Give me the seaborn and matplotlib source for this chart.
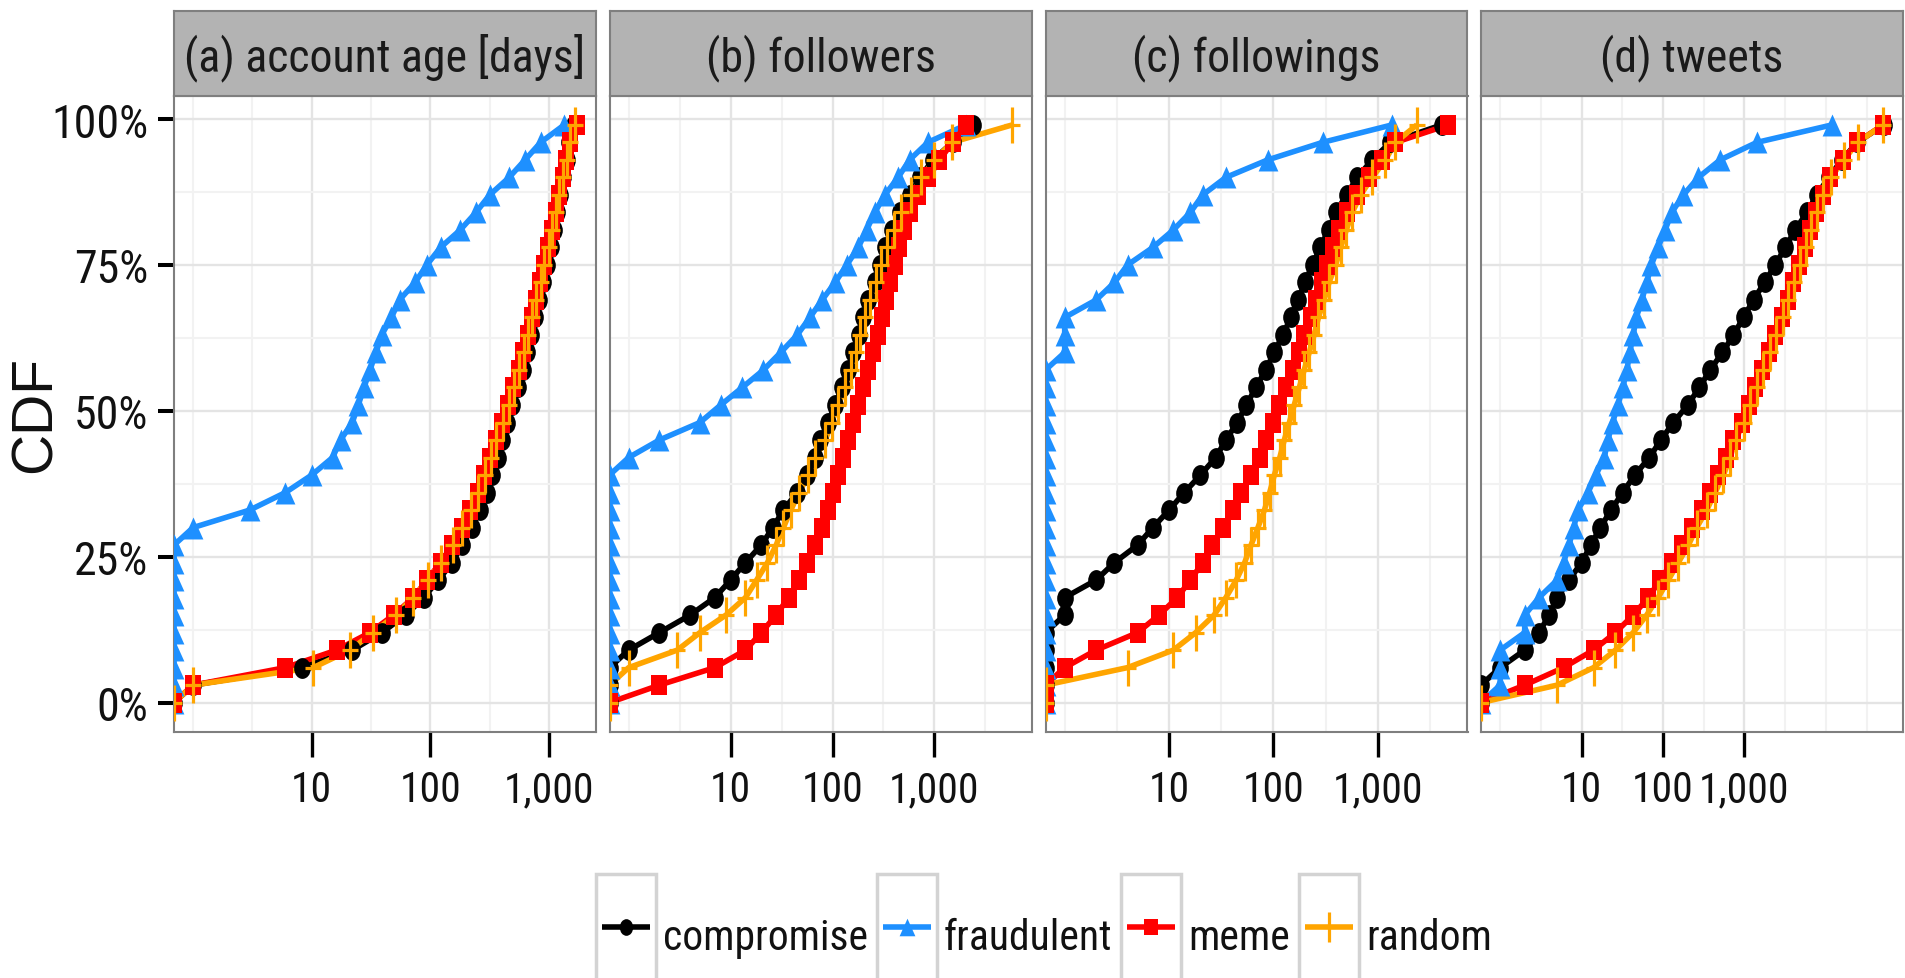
import numpy as np
import pandas as pd
import matplotlib
matplotlib.use("Agg")
import matplotlib.pyplot as plt
from matplotlib import font_manager as fm
from matplotlib.path import Path
from matplotlib.patches import Rectangle
from matplotlib.ticker import FixedLocator, FuncFormatter, NullFormatter
import seaborn as sns

# ---------------------------------------------------------------- data
CDF_LEVELS = [0.00, 0.03, 0.06, 0.09, 0.12, 0.15, 0.18, 0.21, 0.24, 0.27,
              0.30, 0.33, 0.36, 0.39, 0.42, 0.45, 0.48, 0.51, 0.54, 0.57,
              0.60, 0.63, 0.66, 0.69, 0.72, 0.75, 0.78, 0.81, 0.84, 0.87,
              0.90, 0.93, 0.96, 0.99]

GROUPS = ["compromise", "fraudulent", "meme", "random"]
GROUP_COLORS = ["#000000", "#1E90FF", "#FF0000", "#FFA500"]
PANEL_TITLES = ["(a) account age [days]", "(b) followers",
                "(c) followings", "(d) tweets"]
X_TICKS = [10, 100, 1000]
Y_TICKS = [0.0, 0.25, 0.50, 0.75, 1.0]
Y_TICK_LABELS = ["0%", "25%", "50%", "75%", "100%"]

# quantile values (one per CDF level)
AGE_COMPROMISE = [0, 1, 8.2, 22, 39, 62, 88, 117, 153, 186, 225, 262, 298, 334,
                  370, 405, 447, 493, 548, 605, 653, 706, 762, 822, 887, 957,
                  1033, 1096, 1175, 1250, 1327, 1413, 1489, 1633]
AGE_FRAUDULENT = [0, 0, 0, 0, 0, 0, 0, 0, 0, 0, 1, 3, 6, 10, 15, 17.5, 22,
                  24.7, 27.6, 31, 34.8, 38.9, 47, 55, 74.5, 93.5, 122, 179,
                  243, 317, 463, 630, 853, 1349]
AGE_MEME = [0, 1, 6, 16.2, 31, 49, 72, 93.5, 122, 153, 186, 216, 252, 282, 317,
            355, 405, 453, 500, 557, 611, 664, 721, 778, 841, 908, 993, 1064,
            1140, 1222, 1309, 1400, 1500, 1722]
AGE_RANDOM = [0, 1, 10.3, 21, 33, 51, 72, 95, 124, 155, 186, 219, 254, 288, 324,
              359, 407, 457, 507, 562, 617, 670, 728, 785, 851, 916, 1000,
              1072, 1148, 1230, 1318, 1413, 1514, 1660]

FOLLOWERS_COMPROMISE = [0, 0, 0, 1, 2, 4, 7, 10, 14, 20, 26, 33, 45, 56, 67,
                        76, 90, 106, 123, 143, 160, 182, 200, 224, 260, 291,
                        326, 386, 456, 570, 724, 964, 1510, 2366]
FOLLOWERS_FRAUDULENT = [0, 0, 0, 0, 0, 0, 0, 0, 0, 0, 0, 0, 0, 0, 1, 2, 5, 8,
                        13, 21, 31, 45, 60, 79, 106, 138, 179, 216, 260, 326,
                        440, 570, 861, 2037]
FOLLOWERS_MEME = [0, 2, 7, 14, 20, 28, 37, 47, 56, 68, 79, 91, 102, 114, 128,
                  143, 160, 179, 200, 224, 251, 281, 309, 338, 370, 407, 449,
                  499, 570, 689, 861, 1119, 1510, 2037]
FOLLOWERS_RANDOM = [0, 0, 1, 3, 5, 9, 14, 18, 23, 28, 33, 39, 47, 58, 68, 85,
                    98, 114, 133, 151, 170, 188, 208, 232, 266, 302, 343, 398,
                    473, 593, 741, 1000, 1486, 5808]

FOLLOWINGS_COMPROMISE = [0, 0, 0, 0, 0, 1, 1, 2, 3, 5, 7, 10, 14, 20, 28, 35,
                         45, 55, 68, 84, 102, 123, 147, 172, 200, 237, 281, 337,
                         395, 502, 635, 883, 1318, 4093]
FOLLOWINGS_FRAUDULENT = [0, 0, 0, 0, 0, 0, 0, 0, 0, 0, 0, 0, 0, 0, 0, 0, 0, 0,
                         0, 0, 1, 1, 1, 2, 3, 4, 7, 11, 16, 21, 35, 88, 295,
                         1368]
FOLLOWINGS_MEME = [0, 0, 1, 2, 5, 8, 12, 16, 21, 26, 33, 41, 49, 61, 74, 85, 99,
                   114, 132, 153, 174, 197, 229, 255, 290, 329, 375, 425, 511,
                   635, 820, 1099, 1472, 4732]
FOLLOWINGS_RANDOM = [0, 0, 4, 11, 18, 27, 35, 44, 53, 61, 71, 82, 92, 102, 115,
                     127, 142, 158, 177, 197, 220, 245, 270, 306, 341, 395, 441,
                     499, 569, 684, 883, 1183, 1472, 2366]

TWEETS_COMPROMISE = [0, 0, 1, 2, 3, 4, 5, 7, 10, 13, 17, 23, 32, 45, 68, 94,
                     134, 201, 280, 378, 537, 733, 973, 1291, 1762, 2388, 3170,
                     4207, 5848, 7762, 10814, 15776, 24155, 51404]
TWEETS_FRAUDULENT = [0, 1, 1, 1, 2, 2, 3, 5, 6, 7, 8, 9, 12, 15, 19, 21, 24, 28,
                     32, 36, 39, 43, 47, 55, 63, 72, 87, 106, 128, 178, 272,
                     502, 1419, 11885]
TWEETS_MEME = [0, 2, 6, 14, 26, 43, 66, 92, 128, 169, 225, 299, 378, 479, 589,
               733, 929, 1122, 1355, 1637, 1977, 2388, 2884, 3388, 3981, 4677,
               5495, 6457, 7586, 9120, 11220, 16218, 24155, 50466]
TWEETS_RANDOM = [0, 5, 14, 26, 43, 63, 87, 116, 154, 205, 259, 344, 436, 552,
                 667, 776, 977, 1175, 1413, 1698, 2042, 2455, 2951, 3467, 4074,
                 4786, 5623, 6607, 7762, 9333, 11482, 16596, 24547, 50119]

PANEL_DATA = [
    [AGE_COMPROMISE, AGE_FRAUDULENT, AGE_MEME, AGE_RANDOM],
    [FOLLOWERS_COMPROMISE, FOLLOWERS_FRAUDULENT, FOLLOWERS_MEME, FOLLOWERS_RANDOM],
    [FOLLOWINGS_COMPROMISE, FOLLOWINGS_FRAUDULENT, FOLLOWINGS_MEME, FOLLOWINGS_RANDOM],
    [TWEETS_COMPROMISE, TWEETS_FRAUDULENT, TWEETS_MEME, TWEETS_RANDOM],
]

records = []
for title, series in zip(PANEL_TITLES, PANEL_DATA):
    for group, values in zip(GROUPS, series):
        for level, value in zip(CDF_LEVELS, values):
            records.append((title, group, float(value), level))
df = pd.DataFrame(records, columns=["metric", "group", "value", "cdf"])

# ---------------------------------------------------------------- style
sns.set_theme(style="white")

# a condensed grotesque for all labels, falling back to Liberation Sans
_installed = {f.name for f in fm.fontManager.ttflist}
_candidates = ["Roboto Condensed", "Archivo Narrow", "PT Sans Narrow",
               "Liberation Sans Narrow", "Arimo Narrow", "Sofia Sans Condensed",
               "Encode Sans Condensed", "Encode Sans Semi Condensed"]
CONDENSED = [f for f in _candidates if f in _installed][:1]
FONT = CONDENSED + ["Liberation Sans", "DejaVu Sans"]
IS_CONDENSED = bool(CONDENSED)
plt.rcParams["font.family"] = FONT
plt.rcParams["axes.unicode_minus"] = False

Y_LABEL_SIZE = 33 if IS_CONDENSED else 27
X_LABEL_SIZE = 30 if IS_CONDENSED else 26
STRIP_SIZE = 33 if IS_CONDENSED else 27
LEGEND_SIZE = 30 if IS_CONDENSED else 26

M, L, C = Path.MOVETO, Path.LINETO, Path.CLOSEPOLY
_circ = Path.unit_circle()
MARKERS = {
    "compromise": Path(_circ.vertices * np.array([0.8, 1.0]), _circ.codes),
    "fraudulent": Path([(0, 0.5), (-0.45, -0.5), (0.45, -0.5), (0, 0.5)],
                       [M, L, L, C]),
    "meme": Path([(-0.43, -0.5), (0.43, -0.5), (0.43, 0.5), (-0.43, 0.5),
                  (-0.43, -0.5)], [M, L, L, L, C]),
    "random": Path([(-0.22, 0), (0.22, 0), (0, -0.5), (0, 0.5)], [M, L, M, L]),
}
MARKER_AREA = {"compromise": 225, "fraudulent": 250, "meme": 195, "random": 700}
MARKER_LW = {"compromise": 0, "fraudulent": 0, "meme": 0, "random": 2.3}
LINE_W = 4.0

W, H = 1905, 979
fig = plt.figure(figsize=(W / 100, H / 100), dpi=100, facecolor="white")


def px_axes(x0, y0, x1, y1, **kw):
    return fig.add_axes([x0 / W, 1 - y1 / H, (x1 - x0) / W, (y1 - y0) / H], **kw)


PANEL_LEFT = [174, 609.5, 1045.5, 1481]
PANEL_W = 422
PANEL_TOP, PANEL_BOTTOM, STRIP_TOP = 97, 732.5, 12
BORDER = "#7F7F7F"
TEXT = "#111111"

for i, (title, left) in enumerate(zip(PANEL_TITLES, PANEL_LEFT)):
    ax = px_axes(left, PANEL_TOP, left + PANEL_W, PANEL_BOTTOM)
    ax.set_facecolor("white")
    ax.set_xscale("log")

    sub = df[df["metric"] == title].copy()
    positive = sub.loc[sub["value"] > 0, "value"]
    lo, hi = np.log10(positive.min()), np.log10(positive.max())
    pad = 0.05 * (hi - lo)
    xmin, xmax = 10 ** (lo - pad), 10 ** (hi + pad)
    # zero counts sit at the left edge of the log axis
    sub["x"] = sub["value"].where(sub["value"] > 0, xmin)

    for group, color in zip(GROUPS, GROUP_COLORS):
        sns.lineplot(data=sub[sub["group"] == group], x="x", y="cdf",
                     color=color, lw=LINE_W, estimator=None, sort=False,
                     solid_capstyle="butt", zorder=2, ax=ax)
    for group, color in zip(GROUPS, GROUP_COLORS):
        sns.scatterplot(data=sub[sub["group"] == group], x="x", y="cdf",
                        color=color, marker=MARKERS[group],
                        s=MARKER_AREA[group], edgecolor=color,
                        linewidth=MARKER_LW[group], zorder=3, ax=ax)

    ax.set_xlim(xmin, xmax)
    ax.set_ylim(-0.0495, 1.0395)
    ax.set_xlabel("")
    ax.set_ylabel("")

    ax.xaxis.set_major_locator(FixedLocator(X_TICKS))
    ax.xaxis.set_major_formatter(FuncFormatter(lambda v, p: f"{v:,.0f}"))
    half_decades = [10 ** k for k in np.arange(-0.5, 5.01, 0.5)
                    if k not in (1.0, 2.0, 3.0) and xmin <= 10 ** k <= xmax]
    ax.xaxis.set_minor_locator(FixedLocator(half_decades))
    ax.xaxis.set_minor_formatter(NullFormatter())
    ax.yaxis.set_major_locator(FixedLocator(Y_TICKS))
    ax.yaxis.set_minor_locator(FixedLocator([0.125, 0.375, 0.625, 0.875]))
    ax.yaxis.set_minor_formatter(NullFormatter())

    ax.grid(True, which="major", color="#E4E4E4", lw=1.7)
    ax.grid(True, which="minor", color="#F2F2F2", lw=1.5)
    ax.set_axisbelow(True)

    ax.tick_params(which="minor", length=0)
    ax.tick_params(axis="x", which="major", direction="out", length=18,
                   width=2.4, color="black", pad=9, labelsize=X_LABEL_SIZE,
                   labelcolor=TEXT, bottom=True)
    if i == 0:
        ax.set_yticks(Y_TICKS)
        ax.set_yticklabels(Y_TICK_LABELS)
        ax.tick_params(axis="y", which="major", direction="out", length=11.5,
                       width=2.9, color="black", pad=7, labelsize=Y_LABEL_SIZE,
                       labelcolor=TEXT, left=True)
    else:
        ax.tick_params(axis="y", which="both", left=False, labelleft=False)

    for sp in ax.spines.values():
        sp.set_color(BORDER)
        sp.set_linewidth(1.5)
        sp.set_visible(True)

    # facet strip
    sax = px_axes(left, STRIP_TOP, left + PANEL_W, PANEL_TOP)
    sax.set_facecolor("#B3B3B3")
    sax.set_xticks([])
    sax.set_yticks([])
    for sp in sax.spines.values():
        sp.set_color(BORDER)
        sp.set_linewidth(1.5)
        sp.set_visible(True)
    sax.text(0.5, 0.46, title, ha="center", va="center", fontsize=STRIP_SIZE,
             color="#1A1A1A", transform=sax.transAxes)

fig.text(36 / W, 1 - 415 / H, "CDF", rotation=90, ha="center", va="center",
         fontsize=41, color=TEXT, family=["Liberation Sans", "DejaVu Sans"])

# ---------------------------------------------------------------- legend
lax = fig.add_axes([0, 0, 1, 1], facecolor="none", zorder=5)
lax.set_xlim(0, W)
lax.set_ylim(H, 0)
lax.axis("off")

KEY_W, KEY_TOP, KEY_BOTTOM, KEY_Y = 60, 875, 990, 928
TEXT_GAP, ENTRY_GAP, LEGEND_CENTER = 7, 9, 1044

labels = [lax.text(0, 950, g, fontsize=LEGEND_SIZE, va="baseline", ha="left",
                   color=TEXT) for g in GROUPS]
fig.canvas.draw()
renderer = fig.canvas.get_renderer()
widths = [t.get_window_extent(renderer).width for t in labels]
total = sum(KEY_W + TEXT_GAP + w for w in widths) + ENTRY_GAP * (len(GROUPS) - 1)
x = LEGEND_CENTER - total / 2
for group, color, t, w in zip(GROUPS, GROUP_COLORS, labels, widths):
    lax.add_patch(Rectangle((x, KEY_TOP), KEY_W, KEY_BOTTOM - KEY_TOP,
                            facecolor="white", edgecolor="#D3D3D3", lw=2.5,
                            clip_on=False))
    lax.plot([x + 6, x + KEY_W - 6], [KEY_Y, KEY_Y], color=color, lw=LINE_W,
             solid_capstyle="butt", clip_on=False)
    lax.plot([x + KEY_W / 2], [KEY_Y], ls="none", marker=MARKERS[group],
             ms=np.sqrt(MARKER_AREA[group]) * 0.8, color=color, mec=color,
             mew=MARKER_LW[group], clip_on=False)
    t.set_x(x + KEY_W + TEXT_GAP)
    x += KEY_W + TEXT_GAP + w + ENTRY_GAP

fig.savefig("out.png", dpi=100, facecolor="white")
